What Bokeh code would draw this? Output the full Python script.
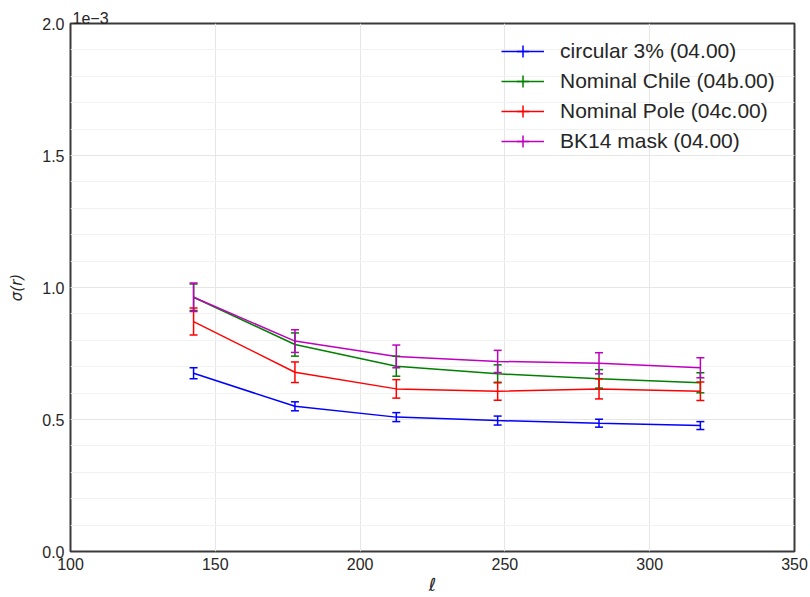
import numpy as np
from bokeh.plotting import figure
from bokeh.models import (ColumnDataSource, Whisker, TeeHead, Legend, LegendItem,
                          FixedTicker, Range1d)
from bokeh.embed import file_html
from bokeh.resources import INLINE

# multipole bin centres
ell = [142.5, 177.5, 212.5, 247.5, 282.5, 317.5]

# sigma(r) in units of 1e-3
circ_val = [0.675, 0.550, 0.509, 0.496, 0.486, 0.477]
circ_err = [0.021, 0.017, 0.017, 0.017, 0.015, 0.015]

chile_val = [0.963, 0.784, 0.702, 0.673, 0.654, 0.639]
chile_err = [0.050, 0.044, 0.038, 0.034, 0.035, 0.038]

pole_val = [0.871, 0.679, 0.616, 0.607, 0.616, 0.607]
pole_err = [0.051, 0.039, 0.035, 0.034, 0.038, 0.035]

bk14_val = [0.963, 0.797, 0.739, 0.720, 0.713, 0.696]
bk14_err = [0.054, 0.043, 0.043, 0.042, 0.040, 0.038]

labels = ["circular 3% (04.00)", "Nominal Chile (04b.00)",
          "Nominal Pole (04c.00)", "BK14 mask (04.00)"]
colors = ["#0000ff", "#008000", "#ff0000", "#bf00bf"]

x_ticks = [100, 150, 200, 250, 300, 350]
y_ticks = [0.0, 0.5, 1.0, 1.5, 2.0]
y_minor = [0.1 * i for i in range(21)]

FONT = "Liberation Sans"
TXT = "#262626"

p = figure(width=810, height=597, output_backend="svg", toolbar_location=None,
           x_range=Range1d(100, 350), y_range=Range1d(0, 2.0),
           min_border_left=70, min_border_right=16, min_border_top=23,
           min_border_bottom=46)

# offset text of the y axis ("1e-3") shown above the frame's top-left corner
p.title.text = "1e−3"
p.title.align = "left"
p.title.offset = 2
p.title.standoff = 0
p.title.text_font = FONT
p.title.text_font_size = "16px"
p.title.text_font_style = "normal"
p.title.text_color = TXT

p.background_fill_color = "white"
p.border_fill_color = "white"
p.outline_line_color = "#3a3a3a"
p.outline_line_width = 2

for ax in (p.xaxis[0], p.yaxis[0]):
    ax.axis_line_color = None
    ax.major_tick_line_color = None
    ax.minor_tick_line_color = None
    ax.major_tick_out = 0
    ax.major_tick_in = 0
    ax.minor_tick_out = 0
    ax.minor_tick_in = 0
    ax.major_label_text_font = FONT
    ax.major_label_text_font_size = "16px"
    ax.major_label_text_color = TXT
    ax.axis_label_text_font = "DejaVu Sans"
    ax.axis_label_text_font_style = "italic"
    ax.axis_label_text_color = TXT

p.xaxis.ticker = FixedTicker(ticks=x_ticks)
p.yaxis.ticker = FixedTicker(ticks=y_ticks, minor_ticks=y_minor)
p.xaxis.major_label_overrides = {t: str(t) for t in x_ticks}
p.yaxis.major_label_overrides = {t: f"{t:.1f}" for t in y_ticks}
p.xaxis.major_label_standoff = 6
p.yaxis.major_label_standoff = 6
p.xaxis.axis_label = "ℓ"
p.yaxis.axis_label = "σ(r)"
p.xaxis.axis_label_text_font_size = "18px"
p.yaxis.axis_label_text_font_size = "15px"
p.xaxis.axis_label_standoff = 1
p.yaxis.axis_label_standoff = 13

p.xgrid.grid_line_color = "#e6e6e6"
p.ygrid.grid_line_color = "#e6e6e6"
p.ygrid.minor_grid_line_color = "#f2f2f2"
p.xgrid.grid_line_width = 1
p.ygrid.grid_line_width = 1

series = [(circ_val, circ_err), (chile_val, chile_err),
          (pole_val, pole_err), (bk14_val, bk14_err)]

items = []
for (vals, errs), lab, col in zip(series, labels, colors):
    src = ColumnDataSource(dict(
        x=ell, y=vals,
        upper=[v + e for v, e in zip(vals, errs)],
        lower=[v - e for v, e in zip(vals, errs)]))
    w = Whisker(source=src, base="x", upper="upper", lower="lower",
                line_color=col, line_width=1.5, level="glyph",
                upper_head=TeeHead(size=8, line_color=col, line_width=1.5),
                lower_head=TeeHead(size=8, line_color=col, line_width=1.5))
    p.add_layout(w)
    lr = p.line("x", "y", source=src, line_color=col, line_width=1.5)
    cr = p.scatter("x", "y", source=src, marker="cross", size=0,
                   line_color=col, line_width=1.5)
    items.append(LegendItem(label=lab, renderers=[lr, cr]))

legend = Legend(items=items, location="top_right")
legend.border_line_color = None
legend.background_fill_alpha = 0
legend.label_text_font = FONT
legend.label_text_font_size = "21px"
legend.label_text_color = TXT
legend.glyph_width = 43
legend.glyph_height = 30
legend.label_height = 30
legend.label_width = 221
legend.label_standoff = 16
legend.spacing = 0
legend.padding = 6
legend.margin = 13
p.add_layout(legend)

open("out.html", "w").write(file_html(p, INLINE))
